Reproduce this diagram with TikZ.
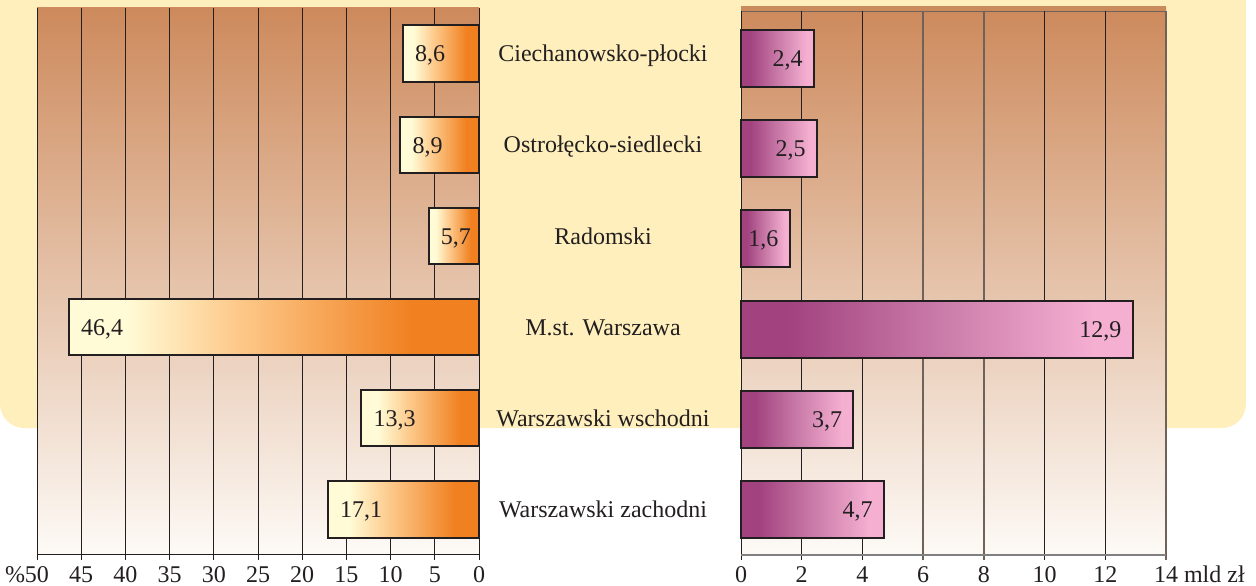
\documentclass[tikz,border=0pt]{standalone}
\usepackage{fontspec}
\setmainfont{Liberation Serif}
\usepackage{tikz, xcolor}
\usetikzlibrary{positioning}

\definecolor{bgcream}{HTML}{FEEFBD}
\definecolor{plottop}{HTML}{CD8A5C}
\definecolor{plotmid}{HTML}{E2BC9F}
\definecolor{plotbot}{HTML}{FDFAF6}
\definecolor{barcream}{HTML}{FFFBD6}
\definecolor{barpeach}{HTML}{FDCB8D}
\definecolor{barorange}{HTML}{F08020}
\definecolor{barpurple}{HTML}{A2427F}
\definecolor{barmauve}{HTML}{C97AA8}
\definecolor{barpink}{HTML}{F5AFD1}
\definecolor{gridgray}{HTML}{6E625A}
\definecolor{inkdark}{HTML}{231F20}
\definecolor{bandbrown}{HTML}{C98A5C}

\pgfdeclarehorizontalshading{orangebar}{100bp}{color(0bp)=(barcream); color(32bp)=(barcream); color(45bp)=(barpeach); color(67bp)=(barorange); color(100bp)=(barorange)}
\pgfdeclarehorizontalshading{purplebar}{100bp}{color(0bp)=(barpurple); color(31bp)=(barpurple); color(50bp)=(barmauve); color(70bp)=(barpink); color(100bp)=(barpink)}

\begin{document}
\begin{tikzpicture}[x=1pt, y=-1pt,
    every node/.style={font=\fontsize{24}{26}\selectfont, text=inkdark, inner sep=0pt},
    plotbg/.style={top color=plottop, middle color=plotmid, bottom color=plotbot},
    gridline/.style={line width=1pt, inkdark},
    grayline/.style={line width=1.6pt, gridgray},
    barbox/.style={draw=inkdark, line width=2pt, shade}]
    \useasboundingbox (0,0) rectangle (1256,586);
    \fill [bgcream, rounded corners=24] (0,-40) rectangle (1246,428);

    \shade [plotbg] (37,8) rectangle (479,554);
    \shade [plotbg] (741,8) rectangle (1166,554);
    \fill [bandbrown] (741,6) rectangle (1166,11);
    \draw [gridgray, line width=1pt] (741,11.5) -- (1166,11.5);

    \foreach \v in {0,5,...,50} {
        \draw [gridline] ({479-8.84*\v},8) -- ({479-8.84*\v},560);
    }
    \foreach \v in {0,5,...,45} {
        \node [anchor=base] (lt\v) at ({479-8.84*\v},582) {\v};
    }
    \node [anchor=base] (lt50) at (37,582) {\llap{\%}50};
    \draw [gridline] (37,554) -- (479,554);

    \foreach \v in {0,2,4,10,12} {
        \draw [gridline] ({741+30.36*\v},11) -- ({741+30.36*\v},560);
    }
    \foreach \v in {6,8,14} {
        \draw [grayline] ({741+30.36*\v},11) -- ({741+30.36*\v},560);
    }
    \foreach \v in {0,2,...,12} {
        \node [anchor=base] (rt\v) at ({741+30.36*\v},582) {\v};
    }
    \node [anchor=base] (rt14) at (1166,582) {14\rlap{ mld zł}};
    \draw [line width=2pt, gray] (741,555) -- (1166,555);

    \foreach \val/\txt/\i in {8.6/{8,6}/0, 8.9/{8,9}/1, 5.7/{5,7}/2, 46.4/{46,4}/3, 13.3/{13,3}/4, 17.1/{17,1}/5} {
        \draw [barbox, shading=orangebar] ({479-8.84*\val},{25.5+91.1*\i}) rectangle (479,{82+91.1*\i});
        \node [anchor=base west] (lv\i) at ({479-8.84*\val+12},{62+91.1*\i}) {\txt};
    }

    \foreach \val/\txt/\i in {2.4/{2,4}/0, 2.5/{2,5}/1, 1.6/{1,6}/2, 12.9/{12,9}/3, 3.7/{3,7}/4, 4.7/{4,7}/5} {
        \draw [barbox, shading=purplebar] (741,{30+90.2*\i}) rectangle ({741+30.36*\val},{87+90.2*\i});
        \node [anchor=base east] (rv\i) at ({741+30.36*\val-11},{66.5+90.2*\i}) {\txt};
    }

    \node [anchor=base] (reg1) at (603,61.5) {Ciechanowsko-płocki};
    \node [anchor=base] (reg2) at (603,152.5) {Ostrołęcko-siedlecki};
    \node [anchor=base] (reg3) at (603,244) {Radomski};
    \node [anchor=base] (reg4) at (603,335) {M.st. Warszawa};
    \node [anchor=base] (reg5) at (603,426) {Warszawski wschodni};
    \node [anchor=base] (reg6) at (603,517) {Warszawski zachodni};
\end{tikzpicture}
\end{document}
